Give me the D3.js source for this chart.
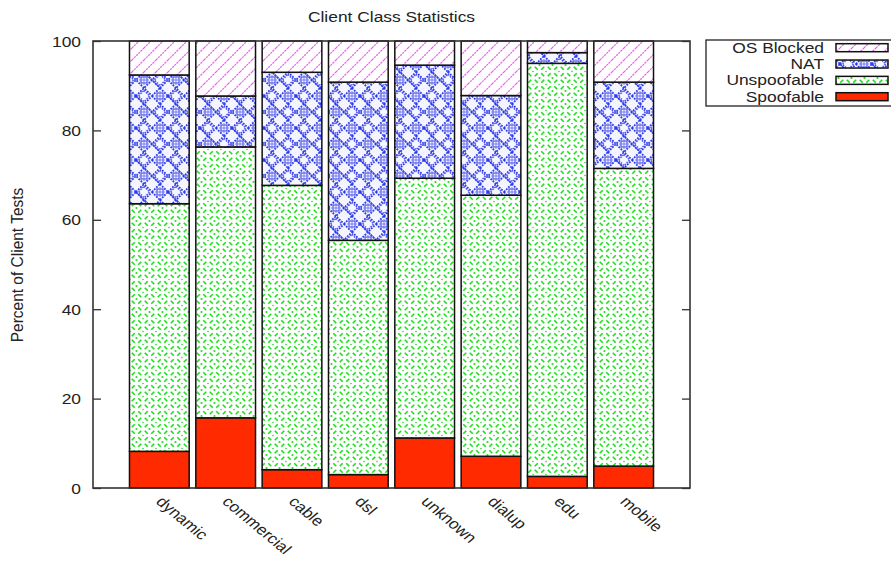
<!DOCTYPE html>
<html>
<head>
<meta charset="utf-8">
<script src="https://cdn.jsdelivr.net/npm/d3@7/dist/d3.min.js"></script>
<style>
  html, body { margin: 0; padding: 0; background: #fff; }
  svg { display: block; }
  text { font-family: "Liberation Sans", Arial, Helvetica, sans-serif; fill: #222; }
</style>
</head>
<body>
<svg id="chart" width="891" height="561"></svg>
<script>
// Client classes along the x axis
const categories = ["dynamic", "commercial", "cable", "dsl", "unknown", "dialup", "edu", "mobile"];

// Percent of client tests per outcome, bottom to top of each stack
const spoofable   = [8.2, 15.7, 4.1, 3.0, 11.2, 7.1, 2.6, 4.9];
const unspoofable = [55.4, 60.6, 63.6, 52.4, 58.1, 58.4, 92.4, 66.6];
const nat         = [28.8, 11.4, 25.3, 35.4, 25.3, 22.3, 2.4, 19.3];
const osBlocked   = [7.6, 12.3, 7.0, 9.2, 5.4, 12.2, 2.6, 9.2];

const seriesKeys   = ["Spoofable", "Unspoofable", "NAT", "OS Blocked"];
const legendOrder  = ["OS Blocked", "NAT", "Unspoofable", "Spoofable"];
const yTickValues  = [0, 20, 40, 60, 80, 100];

const rows = categories.map((c, i) => ({
  category: c,
  "Spoofable": spoofable[i],
  "Unspoofable": unspoofable[i],
  "NAT": nat[i],
  "OS Blocked": osBlocked[i]
}));

const svg = d3.select("#chart");
const frame = { left: 93, right: 690, top: 41, bottom: 488 };
const stretch = 1.2; // wide lettering

// Bars sit at integer positions 0..7 inside a -1..8 range
const x = d3.scaleLinear().domain([-1, 8]).range([frame.left, frame.right]);
const y = d3.scaleLinear().domain([0, 100]).range([frame.bottom, frame.top]);
const barWidth = 0.9;

// ---- fill patterns ----
const defs = svg.append("defs");

// OS Blocked: thin magenta diagonals
const pOs = defs.append("pattern").attr("id", "pat-os")
  .attr("patternUnits", "userSpaceOnUse").attr("width", 12).attr("height", 12);
pOs.append("rect").attr("width", 12).attr("height", 12).attr("fill", "#fff");
pOs.append("path").attr("d", "M-3,3 L3,-3 M0,12 L12,0 M9,15 L15,9")
  .attr("stroke", "#f25cf2").attr("stroke-width", 1.2).attr("stroke-dasharray", "2.2 0.8");

// NAT: dotted blue diamond lattice with small rosettes
const pNat = defs.append("pattern").attr("id", "pat-nat")
  .attr("patternUnits", "userSpaceOnUse").attr("width", 32).attr("height", 32);
pNat.append("rect").attr("width", 32).attr("height", 32).attr("fill", "#f4f5ff");
const natStroke = "#2f3ae8";
pNat.append("path")
  .attr("d", "M0,8 L8,0 M0,24 L24,0 M8,32 L32,8 M24,32 L32,24 " +
             "M0,8 L24,32 M0,-8 L40,32 M8,0 L32,24 M24,0 L32,8 M0,24 L8,32")
  .attr("stroke", natStroke).attr("stroke-width", 1.8).attr("stroke-dasharray", "1.8 1.2")
  .attr("fill", "none");
[[0, 0], [32, 0], [0, 32], [32, 32], [16, 16]].forEach(([cx, cy]) => {
  pNat.append("rect").attr("x", cx - 3).attr("y", cy - 3).attr("width", 6).attr("height", 6)
    .attr("fill", "none").attr("stroke", "#5760ee").attr("stroke-width", 1.3);
  pNat.append("path").attr("d", `M${cx - 5},${cy} h10 M${cx},${cy - 5} v10`)
    .attr("stroke", "#7a82f2").attr("stroke-width", 1);
});
[[16, 0], [0, 16], [32, 16], [16, 32]].forEach(([cx, cy]) => {
  pNat.append("rect").attr("x", cx - 4).attr("y", cy - 4).attr("width", 8).attr("height", 8)
    .attr("fill", "none").attr("stroke", "#4650ea").attr("stroke-width", 1.4)
    .attr("stroke-dasharray", "1.6 1.1")
    .attr("transform", `rotate(45 ${cx} ${cy})`);
});

// Unspoofable: green dashed cross-hatch
const green = "#1ee01e";
const pUn = defs.append("pattern").attr("id", "pat-un")
  .attr("patternUnits", "userSpaceOnUse").attr("width", 13).attr("height", 13);
pUn.append("rect").attr("width", 13).attr("height", 13).attr("fill", "#fff");
pUn.append("path").attr("d", "M0,0 L13,13 M13,0 L0,13")
  .attr("stroke", green).attr("stroke-width", 1.7)
  .attr("stroke-dasharray", "4.2 5")
  .attr("stroke-dashoffset", "-2.5")
  .attr("fill", "none");
pUn.append("circle").attr("cx", 6.5).attr("cy", 0).attr("r", 1.1).attr("fill", green);
pUn.append("circle").attr("cx", 6.5).attr("cy", 13).attr("r", 1.1).attr("fill", green);
pUn.append("circle").attr("cx", 0).attr("cy", 6.5).attr("r", 0.8).attr("fill", green);
pUn.append("circle").attr("cx", 13).attr("cy", 6.5).attr("r", 0.8).attr("fill", green);

const fills = {
  "Spoofable": "#ff2a00",
  "Unspoofable": "url(#pat-un)",
  "NAT": "url(#pat-nat)",
  "OS Blocked": "url(#pat-os)"
};

// ---- stacked bars ----
const stacked = d3.stack().keys(seriesKeys)(rows);
const layers = svg.append("g").selectAll("g").data(stacked).join("g")
  .attr("fill", d => fills[d.key]);
layers.selectAll("rect").data(d => d).join("rect")
  .attr("x", (d, i) => x(i - barWidth / 2))
  .attr("width", (d, i) => x(i + barWidth / 2) - x(i - barWidth / 2))
  .attr("y", d => y(d[1]))
  .attr("height", d => y(d[0]) - y(d[1]))
  .attr("stroke", "#111").attr("stroke-width", 1.5);

// ---- frame and axes ----
svg.append("rect")
  .attr("x", frame.left).attr("y", frame.top)
  .attr("width", frame.right - frame.left).attr("height", frame.bottom - frame.top)
  .attr("fill", "none").attr("stroke", "#333").attr("stroke-width", 1.6);

const yAxisL = d3.axisLeft(y).tickValues(yTickValues).tickSizeInner(-8).tickSizeOuter(0).tickPadding(12);
const gL = svg.append("g").attr("transform", `translate(${frame.left},0)`).call(yAxisL);
gL.select(".domain").remove();
gL.selectAll("line").attr("stroke", "#333").attr("stroke-width", 1.3);
gL.selectAll("text").attr("font-size", 14.5).attr("fill", "#222")
  .attr("x", null).attr("dy", null)
  .attr("transform", d => `translate(-12,5) scale(${stretch},1)`)
  .attr("text-anchor", "end");

const yAxisR = d3.axisRight(y).tickValues(yTickValues).tickSizeInner(-8).tickSizeOuter(0).tickFormat("");
const gR = svg.append("g").attr("transform", `translate(${frame.right},0)`).call(yAxisR);
gR.select(".domain").remove();
gR.selectAll("line").attr("stroke", "#333").attr("stroke-width", 1.3);

// Category labels, slanted downward
svg.append("g").selectAll("text").data(categories).join("text")
  .attr("transform", (d, i) => `translate(${x(i)},${frame.bottom + 11}) scale(${stretch},1) rotate(45)`)
  .attr("font-size", 14.5)
  .attr("text-anchor", "start")
  .attr("dy", "0.35em")
  .text(d => d);

// Title
svg.append("text")
  .attr("transform", `translate(${(frame.left + frame.right) / 2},22) scale(${stretch},1)`)
  .attr("text-anchor", "middle").attr("font-size", 14.5)
  .text("Client Class Statistics");

// Y axis title
svg.append("text")
  .attr("transform", `translate(23,265) scale(1.05,1) rotate(-90)`)
  .attr("text-anchor", "middle").attr("font-size", 15.5)
  .text("Percent of Client Tests");

// ---- legend ----
const legend = svg.append("g");
legend.append("rect").attr("x", 706).attr("y", 40).attr("width", 200).attr("height", 66)
  .attr("fill", "#fff").attr("stroke", "#222").attr("stroke-width", 1.3);
const legendRow = d3.scaleLinear().domain([0, 3]).range([47.7, 96.7]);
legendOrder.forEach((key, i) => {
  const cy = legendRow(i);
  legend.append("text")
    .attr("transform", `translate(824,${cy + 5}) scale(${stretch},1)`)
    .attr("text-anchor", "end").attr("font-size", 14.5)
    .text(key);
  legend.append("rect").attr("x", 836).attr("y", cy - 4).attr("width", 52).attr("height", 8)
    .attr("fill", fills[key]).attr("stroke", "#111").attr("stroke-width", 1.5);
});
</script>
</body>
</html>
